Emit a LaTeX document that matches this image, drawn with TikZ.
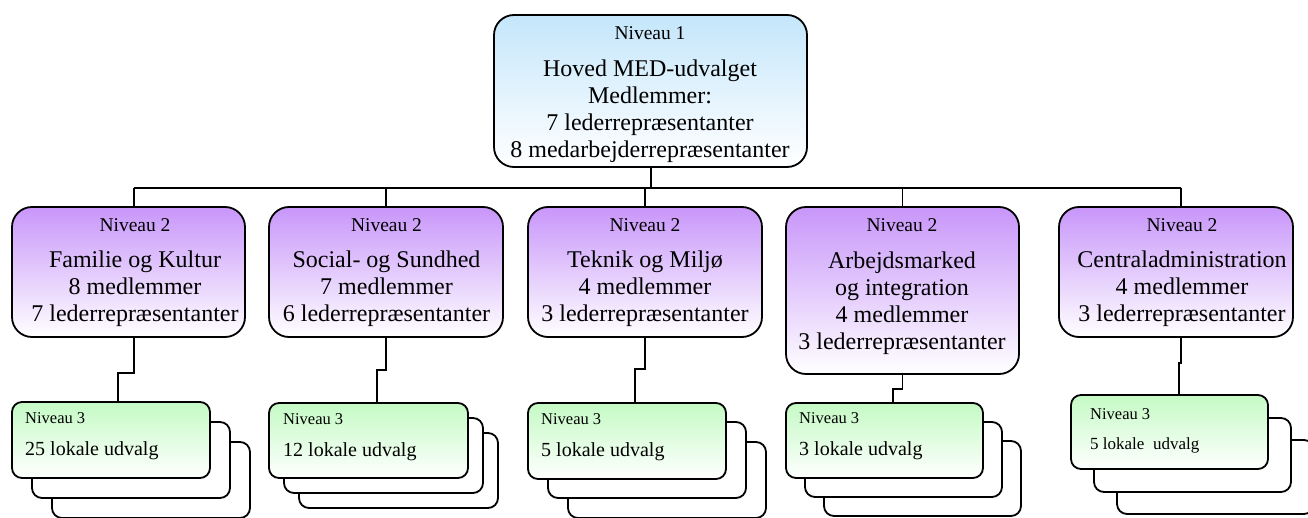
\documentclass[tikz,border=0pt]{standalone}
\usepackage{fontspec}
\setmainfont{Liberation Serif}
\definecolor{topblue}{RGB}{196,230,251}
\definecolor{lvtwo}{RGB}{200,150,250}
\definecolor{lvthree}{RGB}{196,250,196}
\tikzset{
  boxbase/.style={draw=black, line width=1.8pt, inner sep=0pt, rounded corners=20pt},
  topbox/.style={boxbase, top color=topblue, bottom color=white},
  twobox/.style={boxbase, top color=lvtwo, bottom color=white},
  threebox/.style={draw=black, line width=1.8pt, inner sep=0pt, rounded corners=10pt, top color=lvthree, bottom color=white},
  backbox/.style={draw=black, line width=1.8pt, inner sep=0pt, rounded corners=10pt, fill=white},
  conn/.style={line width=1.8pt},
  thickconn/.style={line width=2.6pt},
  bigtxt/.style={inner sep=0pt, anchor=north, align=center, font=\fontsize{24}{27}\selectfont},
  smalltxt/.style={inner sep=0pt, anchor=north west, align=left, font=\fontsize{20}{24}\selectfont},
}
\newcommand{\lvl}[1]{{\fontsize{19.5}{20}\selectfont #1}}
\newcommand{\lvlthree}[1]{{\fontsize{16.5}{18}\selectfont #1}}
\begin{document}
\begin{tikzpicture}[x=1pt,y=-1pt]
\useasboundingbox (0,0) rectangle (1308,518);

% level 1
\node[topbox, minimum width=313pt, minimum height=152pt] (top) at (650.5,91) {};
\node[bigtxt] (toptxt) at (650,26.7) {\lvl{Niveau 1}\\[10pt]Hoved MED-udvalget\\Medlemmer:\\7 lederrepræsentanter\\8 medarbejderrepræsentanter};

% level 2
\node[twobox, minimum width=233pt, minimum height=130pt] (b1) at (128.5,272) {};
\node[twobox, minimum width=234pt, minimum height=130pt] (b2) at (386,272) {};
\node[twobox, minimum width=234pt, minimum height=130pt] (b3) at (645,272) {};
\node[twobox, minimum width=233pt, minimum height=167pt] (b4) at (902.5,290.5) {};
\node[twobox, minimum width=234pt, minimum height=130pt] (b5) at (1176,272) {};

\node[bigtxt] (b1txt) at (135,218.7) {\lvl{Niveau 2}\\[9pt]Familie og Kultur\\8 medlemmer\\7 lederrepræsentanter};
\node[bigtxt] (b2txt) at (386.5,218.7) {\lvl{Niveau 2}\\[9pt]Social- og Sundhed\\7 medlemmer\\6 lederrepræsentanter};
\node[bigtxt] (b3txt) at (645,218.7) {\lvl{Niveau 2}\\[9pt]Teknik og Miljø\\4 medlemmer\\3 lederrepræsentanter};
\node[bigtxt] (b4txt) at (902,218.7) {\lvl{Niveau 2}\\[10pt]Arbejdsmarked\\og integration\\4 medlemmer\\3 lederrepræsentanter};
\node[bigtxt] (b5txt) at (1182,218.7) {\lvl{Niveau 2}\\[9pt]Centraladministration\\4 medlemmer\\3 lederrepræsentanter};

% level 3 (stacked)
\node[backbox, minimum width=198pt, minimum height=76pt] (c1b) at (151,480) {};
\node[backbox, minimum width=198pt, minimum height=76pt] (c1a) at (131,460) {};
\node[threebox, minimum width=198pt, minimum height=76pt] (c1) at (111,440) {};

\node[backbox, minimum width=199pt, minimum height=75pt] (c2b) at (398.5,470.5) {};
\node[backbox, minimum width=199pt, minimum height=75pt] (c2a) at (383.5,455.5) {};
\node[threebox, minimum width=199pt, minimum height=75pt] (c2) at (368.5,440.5) {};

\node[backbox, minimum width=198pt, minimum height=76pt] (c3b) at (667,480) {};
\node[backbox, minimum width=198pt, minimum height=76pt] (c3a) at (647,460) {};
\node[threebox, minimum width=198pt, minimum height=76pt] (c3) at (627,441) {};

\node[backbox, minimum width=197pt, minimum height=75pt] (c4b) at (922.5,478.5) {};
\node[backbox, minimum width=197pt, minimum height=75pt] (c4a) at (903.5,459.5) {};
\node[threebox, minimum width=197pt, minimum height=75pt] (c4) at (884.5,440.5) {};

\node[backbox, minimum width=197pt, minimum height=74pt] (c5b) at (1215.5,477) {};
\node[backbox, minimum width=197pt, minimum height=74pt] (c5a) at (1192.5,455) {};
\node[threebox, minimum width=197pt, minimum height=74pt] (c5) at (1169.5,432) {};

\node[smalltxt] (c1txt) at (25,412.7) {\lvlthree{Niveau 3}\\[8pt]25 lokale udvalg};
\node[smalltxt] (c2txt) at (283,413.7) {\lvlthree{Niveau 3}\\[8pt]12 lokale udvalg};
\node[smalltxt] (c3txt) at (541,413.7) {\lvlthree{Niveau 3}\\[8pt]5 lokale udvalg};
\node[smalltxt] (c4txt) at (799,412.7) {\lvlthree{Niveau 3}\\[8pt]3 lokale udvalg};
\node[smalltxt, font=\fontsize{17}{22}\selectfont] (c5txt) at (1090,408.7) {\lvlthree{Niveau 3}\\[8pt]5 lokale\ \ udvalg};

% connectors
\coordinate (busL) at (134,188);
\coordinate (busR) at (1181,188);
\coordinate (busM) at (651,188);
\draw[thickconn] (top.south -| busM) -- (busM);
\draw[conn] (busL) -- (busR);
\draw[conn] (busL) -- (busL |- b1.north);
\draw[conn] (b2.north |- busL) -- (b2.north);
\draw[conn] (b3.north |- busL) -- (b3.north);
\draw[conn] (b4.north |- busL) -- (b4.north);
\draw[conn] (busR) -- (busR |- b5.north);

\coordinate (j1) at (118,373);
\coordinate (j2) at (377,370);
\coordinate (j3) at (635,369);
\coordinate (j4) at (893,389);
\coordinate (j5) at (1179,363);
\draw[conn] (busL |- b1.south) |- (j1) -- (j1 |- c1.north);
\draw[conn] (b2.south) |- (j2) -- (j2 |- c2.north);
\draw[conn] (b3.south) |- (j3) -- (j3 |- c3.north);
\draw[conn] (b4.south) |- (j4) -- (j4 |- c4.north);
\draw[conn] (busR |- b5.south) |- (j5) -- (j5 |- c5.north);
\end{tikzpicture}
\end{document}
